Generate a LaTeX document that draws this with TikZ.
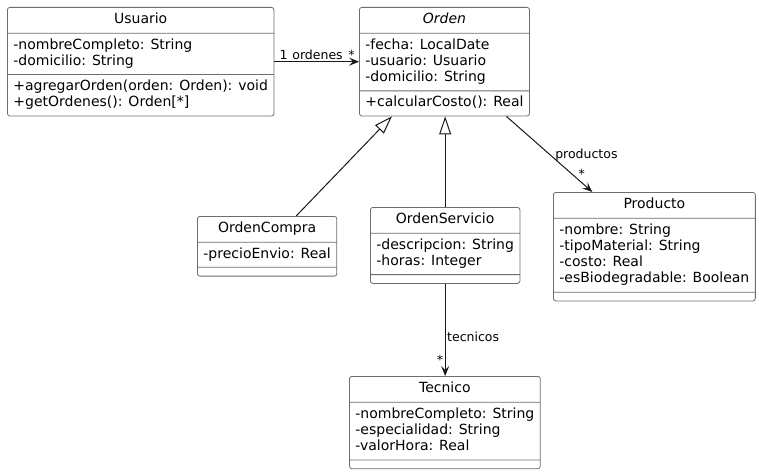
\documentclass[tikz,border=0pt]{standalone}
\usepackage{fontspec}
\setmainfont{DejaVu Sans}
\usetikzlibrary{arrows.meta, shapes.multipart}
\definecolor{boxline}{RGB}{110,110,110}
\definecolor{edgeline}{RGB}{24,24,24}

\newcommand{\members}[1]{\begin{tabular}{@{}l@{}}#1\end{tabular}}
\newcommand{\clsname}[1]{\rule[-5pt]{0pt}{17pt}#1}
\newcommand{\nomembers}{\raisebox{0pt}[-10pt][0pt]{\hspace{1pt}}}

\begin{document}
\begin{tikzpicture}[
    x=1pt, y=-1pt,
    >={Stealth[length=10pt, width=8pt, inset=4pt]},
    umlbox/.style={rectangle split, rectangle split parts=3,
        rectangle split part align={center,left,left},
        draw=boxline, line width=0.8pt, rounded corners=2.5pt, fill=white,
        anchor=north west, inner xsep=6pt, inner ysep=4pt,
        font=\fontsize{14}{16.3}\selectfont},
    lbl/.style={font=\fontsize{12.5}{15}\selectfont, inner sep=1.5pt},
    assoc/.style={->, draw=edgeline, line width=1pt},
    inherit/.style={-{Triangle[open, length=18pt, width=12pt, fill=white]}, draw=edgeline, line width=1pt},
]
    \useasboundingbox (0,0) rectangle (759,473);

    % classes
    \node[umlbox, minimum width=264pt] (us) at (7,7)
        {\clsname{Usuario}
         \nodepart{two}\members{-nombreCompleto: String\\-domicilio: String}
         \nodepart{three}\members{+agregarOrden(orden: Orden): void\\+getOrdenes(): Orden[*]}};
    \node[umlbox, minimum width=169pt] (ord) at (359,7)
        {\clsname{\itshape Orden}
         \nodepart{two}\members{-fecha: LocalDate\\-usuario: Usuario\\-domicilio: String}
         \nodepart{three}\members{+calcularCosto(): Real}};
    \node[umlbox, minimum width=138pt] (oc) at (197,216)
        {\clsname{OrdenCompra}
         \nodepart{two}\members{-precioEnvio: Real}
         \nodepart{three}\nomembers};
    \node[umlbox, minimum width=147pt] (os) at (370,207)
        {\clsname{OrdenServicio}
         \nodepart{two}\members{-descripcion: String\\-horas: Integer}
         \nodepart{three}\nomembers};
    \node[umlbox, minimum width=200pt] (prod) at (553,192)
        {\clsname{Producto}
         \nodepart{two}\members{-nombre: String\\-tipoMaterial: String\\-costo: Real\\-esBiodegradable: Boolean}
         \nodepart{three}\nomembers};
    \node[umlbox, minimum width=190pt] (tec) at (349,376)
        {\clsname{Tecnico}
         \nodepart{two}\members{-nombreCompleto: String\\-especialidad: String\\-valorHora: Real}
         \nodepart{three}\nomembers};

    % inheritance
    \draw[inherit] (oc) -- (ord);
    \draw[inherit] (os.north) -- (os.north |- ord.south);

    % associations
    \draw[assoc] (us) -- (ord)
        node[lbl, pos=0.11, above] (usone) {1}
        node[lbl, pos=0.51, above] (usrole) {ordenes}
        node[lbl, pos=0.91, above] (usmany) {*};
    \draw[assoc] (ord) -- (prod)
        node[lbl, pos=0.51, anchor=west, xshift=3pt] (prodrole) {productos}
        node[lbl, pos=0.76, anchor=west, xshift=5pt] (prodmany) {*};
    \draw[assoc] (os.south) -- (os.south |- tec.north)
        node[lbl, pos=0.58, anchor=west] (tecrole) {tecnicos}
        node[lbl, pos=0.83, anchor=east] (tecmany) {*};
\end{tikzpicture}
\end{document}
